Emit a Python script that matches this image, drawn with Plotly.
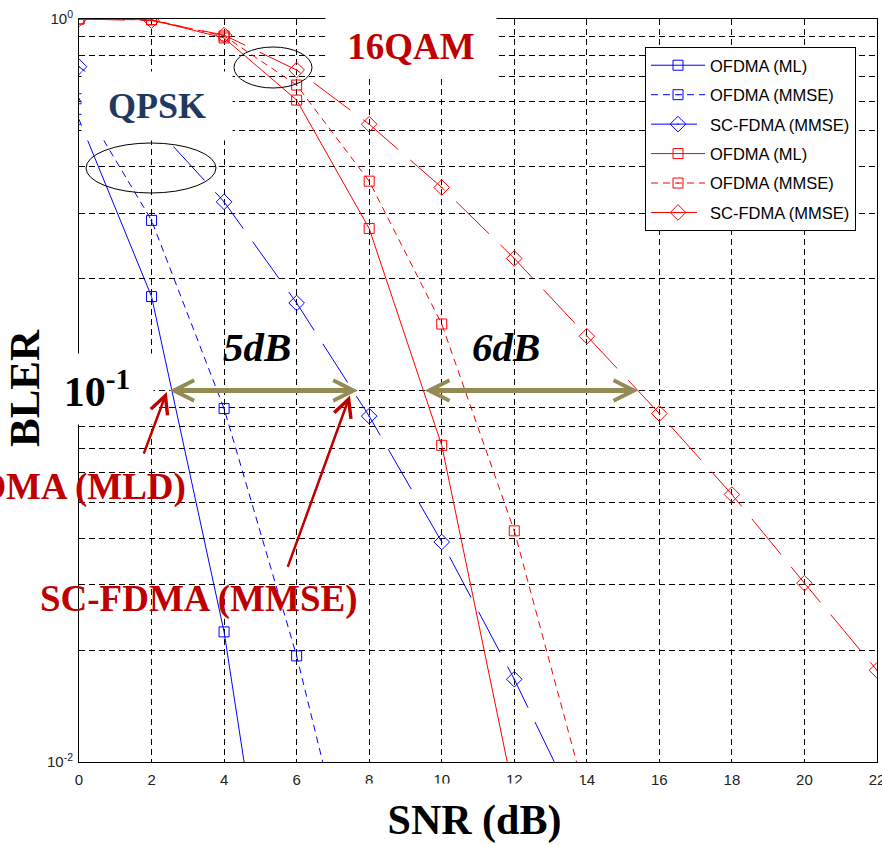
import math
import plotly.graph_objects as go

# ---------------- data ----------------
qpsk_ofdma_ml_snr = [0, 2, 4, 6]
qpsk_ofdma_ml = [0.537, 0.179, 0.0224, 0.0012]

qpsk_ofdma_mmse_snr = [0, 2, 4, 6, 8]
qpsk_ofdma_mmse = [0.61, 0.287, 0.0894, 0.0193, 0.0031]

qpsk_scfdma_snr = [0, 2, 4, 6, 8, 10, 12, 14]
qpsk_scfdma = [0.744, 0.526, 0.322, 0.172, 0.0853, 0.0391, 0.0167, 0.0066]

qam_ofdma_ml_snr = [0, 2, 4, 6, 8, 10, 12]
qam_ofdma_ml = [1.0, 0.995, 0.889, 0.605, 0.273, 0.0712, 0.0081]

qam_ofdma_mmse_snr = [0, 2, 4, 6, 8, 10, 12, 14]
qam_ofdma_mmse = [1.0, 0.995, 0.90, 0.664, 0.366, 0.151, 0.0419, 0.0079]

qam_scfdma_snr = [0, 2, 4, 6, 8, 10, 12, 14, 16, 18, 20, 22]
qam_scfdma = [1.0, 0.99, 0.905, 0.729, 0.521, 0.352, 0.2267, 0.140,
              0.0867, 0.0525, 0.0303, 0.01765]

legend_names = ["OFDMA (ML)", "OFDMA (MMSE)", "SC-FDMA (MMSE)",
                "OFDMA (ML)", "OFDMA (MMSE)", "SC-FDMA (MMSE)"]

x_tickvals = [0, 2, 4, 6, 8, 10, 12, 14, 16, 18, 20, 22]
y_tickvals = [0.01, 0.02, 0.03, 0.04, 0.05, 0.06, 0.07, 0.08, 0.09,
              0.1, 0.2, 0.3, 0.4, 0.5, 0.6, 0.7, 0.8, 0.9, 1.0]
y_ticktext = ["10<sup>-2</sup>"] + [""] * 17 + ["10<sup>0</sup>"]

# ---------------- layout helpers ----------------
W, H = 882, 845
ML, MR, MT, MB = 79, 5, 19, 83
PW, PH = W - ML - MR, H - MT - MB
PLOT_L, PLOT_B = ML, H - MB


def pxx(px):
    return (px - PLOT_L) / PW


def pxy(py):
    return (PLOT_B - py) / PH


BLUE = "#0000FF"
RED = "#FF0000"
DARKRED = "#C00000"
OLIVE = "#948A54"
SERIF = "Liberation Serif, Times New Roman, serif"
SANS = "Liberation Sans, Arial, sans-serif"

fig = go.Figure()

series = [
    (qpsk_ofdma_ml_snr, qpsk_ofdma_ml, BLUE, "solid", "square-open", 10),
    (qpsk_ofdma_mmse_snr, qpsk_ofdma_mmse, BLUE, "7px,5px", "square-open-dot", 10),
    (qpsk_scfdma_snr, qpsk_scfdma, BLUE, "46px,16px", "diamond-open-dot", 12),
    (qam_ofdma_ml_snr, qam_ofdma_ml, RED, "solid", "square-open", 10),
    (qam_ofdma_mmse_snr, qam_ofdma_mmse, RED, "7px,5px", "square-open-dot", 10),
    (qam_scfdma_snr, qam_scfdma, RED, "46px,16px", "diamond-open-dot", 12),
]
for i, (xs, ys, col, dash, sym, ms) in enumerate(series):
    fig.add_trace(go.Scatter(
        x=xs, y=ys, name=legend_names[i], mode="lines+markers",
        legendgroup=f"g{i}",
        line=dict(color=col, width=1, dash=dash),
        marker=dict(symbol=sym, size=ms, color=col, line=dict(color=col, width=1)),
    ))

grid = dict(showgrid=True, gridcolor="#000000", gridwidth=1, griddash="6px,4px")

fig.update_xaxes(range=[0, 22], tickvals=x_tickvals, ticks="",
                 showline=True, linecolor="black", linewidth=1, mirror=True,
                 zeroline=False, tickfont=dict(family=SANS, size=15, color="#222"),
                 ticklabelstandoff=4, ticklabeloverflow="allow", automargin=False, **grid)
fig.update_yaxes(type="log", range=[-2, 0], tickvals=y_tickvals, ticktext=y_ticktext,
                 ticks="", showline=True, linecolor="black", linewidth=1, mirror=True,
                 zeroline=False, tickfont=dict(family=SANS, size=15, color="#222"),
                 ticklabelstandoff=2, ticklabeloverflow="allow", automargin=False, **grid)

annotations = []


def text_ann(txt, px, py, size, color="black", bg=None, italic=False, angle=0,
             width=None, height=None):
    t = f"<b>{txt}</b>"
    if italic:
        t = f"<i>{t}</i>"
    a = dict(text=t, x=pxx(px), y=pxy(py), xref="paper", yref="paper",
             xanchor="center", yanchor="middle", showarrow=False,
             font=dict(family=SERIF, size=size, color=color), textangle=angle,
             borderpad=0)
    if bg:
        a["bgcolor"] = bg
    if width:
        a["width"] = width
    if height:
        a["height"] = height
    annotations.append(a)


text_ann("QPSK", 157, 106, 36, color="#1F3A60", bg="white", width=150, height=68)
text_ann("16QAM", 411, 46, 37, color=DARKRED, bg="white", width=170, height=64)
text_ann("10<sup>-1</sup>", 97, 389, 42, bg="white", width=112, height=70)
text_ann("5dB", 257, 347, 41, italic=True)
text_ann("6dB", 506, 347, 41, italic=True)
text_ann("SC-FDMA (MMSE)", 199, 599, 37, color=DARKRED)
text_ann("OFDMA (MLD)", 57, 487, 37, color=DARKRED)
text_ann("BLER", 24, 388, 43, angle=-90)
text_ann("SNR (dB)", 474, 820, 42, bg="white", width=215, height=72)

# arrows (data coords; y in log10 for annotations on a log axis)
lg = math.log10


def arrow(x_tip, y_tip, x_tail, y_tail, color, width, head, size, both=False):
    a = dict(x=x_tip, y=lg(y_tip), ax=x_tail, ay=lg(y_tail), xref="x", yref="y",
             axref="x", ayref="y", text="", showarrow=True, arrowhead=head,
             arrowsize=size, arrowwidth=width, arrowcolor=color, standoff=0,
             startstandoff=0)
    if both:
        a.update(arrowside="end+start", startarrowhead=head, startarrowsize=size)
    annotations.append(a)


arrow(7.69, 0.1, 2.45, 0.1, OLIVE, 5, 5, 0.8, both=True)
arrow(15.42, 0.1, 9.49, 0.1, OLIVE, 5, 5, 0.8, both=True)
arrow(2.42, 0.0991, 1.77, 0.067, DARKRED, 2.5, 5, 1.4)
arrow(7.47, 0.097, 5.74, 0.0332, DARKRED, 2.5, 5, 1.4)

shapes = [
    dict(type="circle", xref="paper", yref="paper", x0=pxx(86), x1=pxx(216),
         y0=pxy(193), y1=pxy(143), line=dict(color="black", width=1)),
    dict(type="circle", xref="paper", yref="paper", x0=pxx(234), x1=pxx(312),
         y0=pxy(88), y1=pxy(47), line=dict(color="black", width=1)),
]

fig.update_layout(
    width=W, height=H, autosize=False,
    margin=dict(l=ML, r=MR, t=MT, b=MB, pad=0, autoexpand=False),
    plot_bgcolor="white", paper_bgcolor="white",
    annotations=annotations, shapes=shapes,
    showlegend=True,
    legend=dict(x=pxx(645), y=pxy(47), xanchor="left", yanchor="top",
                bgcolor="white", bordercolor="black", borderwidth=1,
                font=dict(family=SANS, size=16.5, color="black"),
                traceorder="grouped", tracegroupgap=5, itemwidth=54),
)

fig.write_html("out.html",
               config={"responsive": False, "displayModeBar": False},
               post_script="document.body.style.margin='0';"
                           "document.body.style.overflow='hidden';")
